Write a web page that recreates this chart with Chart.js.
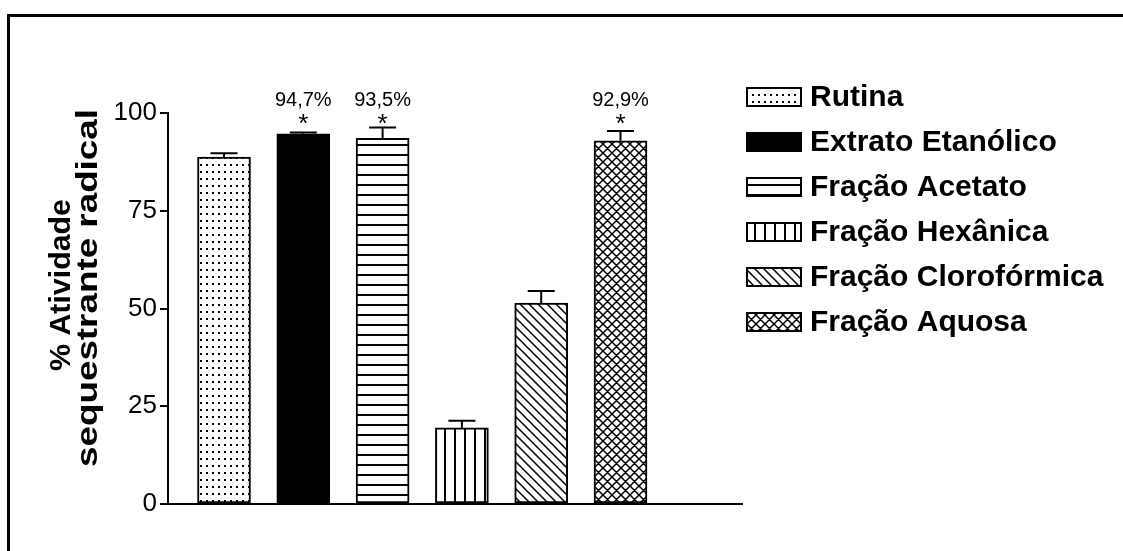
<!DOCTYPE html>
<html>
<head>
<meta charset="utf-8">
<script src="https://cdn.jsdelivr.net/npm/chart.js@4"></script>
<style>
  html, body { margin: 0; padding: 0; background: #fff; }
  #wrap { position: relative; width: 1123px; height: 551px; overflow: hidden; background: #fff; }
  #chart { position: absolute; left: 0; top: 0; }
  #frame { position: absolute; left: 7px; top: 14px; right: -10px; bottom: -10px;
           border-left: 3px solid #000; border-top: 3px solid #000; pointer-events: none; }
</style>
</head>
<body>
<div id="wrap">
  <canvas id="chart" width="1123" height="551"></canvas>
  <div id="frame"></div>
</div>
<script>
// Sample names, in bar order
const categories = ['Rutina', 'Extrato Etanólico', 'Fração Acetato', 'Fração Hexânica', 'Fração Clorofórmica', 'Fração Aquosa'];
// Mean radical-scavenging activity (%)
const means = [88.7, 94.7, 93.5, 19.5, 51.4, 92.9];
// Upper error (SD)
const errors = [1.0, 0.3, 2.8, 1.8, 3.1, 2.5];
// Value captions shown above significant bars
const valueLabels = ['', '94,7%', '93,5%', '', '', '92,9%'];
const significant = [false, true, true, false, false, true];
// Fill pattern per sample
const fills = ['dots', 'solid', 'hlines', 'vlines', 'diag', 'cross'];
// Y axis ticks
const yTicks = [0, 25, 50, 75, 100];

const FONT = '"Liberation Sans", Arial, Helvetica, sans-serif';
const STAR_LEVEL = 98.4;

function makePattern(kind) {
  if (kind === 'solid') return '#000';
  const c = document.createElement('canvas');
  const g = c.getContext('2d');
  let w = 10, h = 10;
  if (kind === 'dots') { w = 6; h = 7; }
  if (kind === 'diag' || kind === 'cross') { w = 9; h = 9; }
  c.width = w; c.height = h;
  g.fillStyle = '#fff';
  g.fillRect(0, 0, w, h);
  g.fillStyle = '#000';
  g.strokeStyle = '#000';
  g.lineWidth = 1.5;
  if (kind === 'dots') {
    g.fillRect(2, 3, 2, 2);
  } else if (kind === 'hlines') {
    g.fillRect(0, 4, w, 2);
  } else if (kind === 'vlines') {
    g.fillRect(4, 0, 2, h);
  } else {
    // "\" direction
    g.beginPath();
    g.moveTo(-1, -1); g.lineTo(w + 1, h + 1);
    g.moveTo(-1, h - 1); g.lineTo(1, h + 1);
    g.moveTo(w - 1, -1); g.lineTo(w + 1, 1);
    if (kind === 'cross') {
      // "/" direction
      g.moveTo(-1, h + 1); g.lineTo(w + 1, -1);
      g.moveTo(-1, 1); g.lineTo(1, -1);
      g.moveTo(w - 1, h + 1); g.lineTo(w + 1, h - 1);
    }
    g.stroke();
  }
  return g.createPattern(c, 'repeat');
}

const patterns = fills.map(makePattern);

// Error bars, significance marks and value captions
const errorBarPlugin = {
  id: 'errorBars',
  afterDatasetsDraw(chart) {
    const ctx = chart.ctx;
    const y = chart.scales.y;
    const meta = chart.getDatasetMeta(0);
    ctx.save();
    ctx.strokeStyle = '#000';
    ctx.lineWidth = 2;
    meta.data.forEach((bar, i) => {
      const base = y.getPixelForValue(means[i]);
      const top = y.getPixelForValue(means[i] + errors[i]);
      ctx.beginPath();
      ctx.moveTo(bar.x, base);
      ctx.lineTo(bar.x, top);
      ctx.moveTo(bar.x - 13.5, top);
      ctx.lineTo(bar.x + 13.5, top);
      ctx.stroke();
      if (significant[i]) {
        const sy = y.getPixelForValue(STAR_LEVEL);
        ctx.fillStyle = '#000';
        ctx.font = '26px ' + FONT;
        ctx.textAlign = 'center';
        ctx.textBaseline = 'alphabetic';
        const m = ctx.measureText('*');
        const mid = (m.actualBoundingBoxAscent - m.actualBoundingBoxDescent) / 2;
        ctx.fillText('*', bar.x, sy + mid);
        ctx.font = '20px ' + FONT;
        ctx.textBaseline = 'middle';
        ctx.fillText(valueLabels[i], bar.x, sy - 19);
      }
    });
    ctx.restore();
  }
};

// Two-line axis title and the patterned legend
const decorPlugin = {
  id: 'decor',
  afterDraw(chart) {
    const ctx = chart.ctx;
    ctx.save();
    // axis title
    ctx.fillStyle = '#000';
    ctx.font = 'bold 30px ' + FONT;
    ctx.textAlign = 'center';
    ctx.textBaseline = 'middle';
    const titleLines = [
      { text: '% Atividade', x: 62, y: 285, len: 172 },
      { text: 'sequestrante radical', x: 89, y: 288, len: 358 }
    ];
    titleLines.forEach(t => {
      const natural = ctx.measureText(t.text).width;
      ctx.save();
      ctx.translate(t.x, t.y);
      ctx.rotate(-Math.PI / 2);
      ctx.scale(t.len / natural, 1);
      ctx.fillText(t.text, 0, 0);
      ctx.restore();
    });
    // legend
    const bx = 747, bw = 54, bh = 18, rowY0 = 97, rowGap = 45;
    categories.forEach((name, i) => {
      const ry = rowY0 + i * rowGap;
      ctx.fillStyle = patterns[i];
      ctx.fillRect(bx, ry - bh / 2, bw, bh);
      ctx.strokeStyle = '#000';
      ctx.lineWidth = 2;
      ctx.strokeRect(bx, ry - bh / 2, bw, bh);
      ctx.fillStyle = '#000';
      ctx.font = 'bold 30px ' + FONT;
      ctx.textAlign = 'left';
      ctx.textBaseline = 'middle';
      ctx.fillText(name, 810, ry + 1);
    });
    ctx.restore();
  }
};

const SPACING = 79.3;
const AREA_LEFT = 168, AREA_RIGHT = 742, FIRST_CENTER = 224;
const xMin = -(FIRST_CENTER - AREA_LEFT) / SPACING;
const xMax = xMin + (AREA_RIGHT - AREA_LEFT) / SPACING;

new Chart(document.getElementById('chart'), {
  type: 'bar',
  data: {
    datasets: [{
      label: '% Atividade sequestrante radical',
      data: means.map((v, i) => ({ x: i, y: v })),
      backgroundColor: patterns,
      borderColor: '#000',
      borderWidth: 2,
      borderSkipped: false,
      barThickness: 53
    }]
  },
  options: {
    responsive: false,
    animation: false,
    events: [],
    layout: { padding: { left: 0, top: 113, right: 1123 - AREA_RIGHT, bottom: 47 } },
    plugins: { legend: { display: false }, tooltip: { enabled: false } },
    scales: {
      x: {
        type: 'linear',
        offset: false,
        min: xMin,
        max: xMax,
        ticks: { display: false },
        grid: { display: false, drawTicks: false, offset: false },
        border: { display: true, color: '#000', width: 2 },
        afterFit(s) { s.height = 0; }
      },
      y: {
        min: 0,
        max: 100,
        afterBuildTicks(s) { s.ticks = yTicks.map(v => ({ value: v })); },
        ticks: { color: '#000', font: { family: FONT, size: 26 }, padding: 3 },
        grid: { drawOnChartArea: false, drawTicks: true, tickLength: 8, color: '#000', lineWidth: 2 },
        border: { display: true, color: '#000', width: 2 },
        afterFit(s) { s.width = AREA_LEFT; }
      }
    }
  },
  plugins: [errorBarPlugin, decorPlugin]
});
</script>
</body>
</html>
